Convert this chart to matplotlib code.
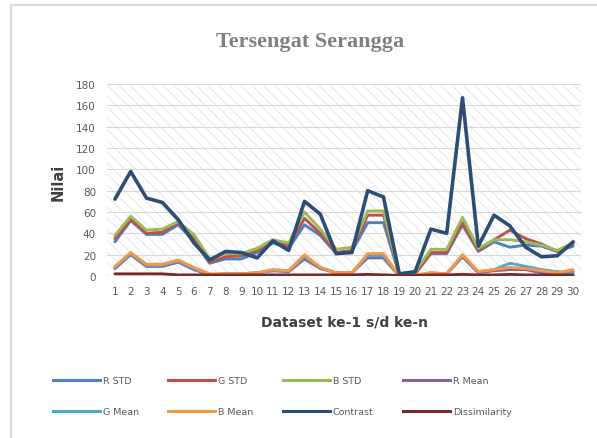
import numpy as np
import matplotlib
matplotlib.use('Agg')
import matplotlib.pyplot as plt
from matplotlib.patches import Rectangle

# data
dataset = list(range(1, 31))
r_std = [32, 52, 39, 39, 48, 33, 12, 16, 16, 22, 31, 26, 48, 38, 21,
         23, 50, 50, 1, 2, 21, 21, 48, 23, 32, 27, 29, 28, 23, 28]
g_std = [35, 53, 40, 41, 50, 35, 13, 18, 19, 24, 33, 28, 54, 40, 22,
         24, 57, 57, 1, 2, 22, 22, 50, 24, 34, 43, 35, 30, 23, 30]
b_std = [38, 56, 43, 44, 51, 39, 16, 21, 21, 26, 34, 31, 60, 44, 25,
         27, 61, 61, 2, 4, 25, 25, 55, 26, 34, 34, 32, 29, 24, 31]
r_mean = [7, 20, 9, 9, 13, 6, 1, 2, 2, 3, 5, 4, 16, 7, 3,
          3, 17, 17, 0, 0, 2, 2, 18, 3, 5, 6, 6, 3, 2, 4]
g_mean = [8, 21, 10, 10, 14, 7, 1, 2, 2, 3, 5, 5, 18, 8, 3,
          3, 19, 19, 0, 0, 3, 2, 19, 4, 6, 12, 9, 6, 4, 3]
b_mean = [9, 22, 11, 11, 15, 8, 2, 2, 2, 3, 6, 5, 20, 8, 3,
          3, 21, 21, 0, 1, 3, 2, 20, 4, 6, 8, 7, 5, 3, 6]
contrast = [72, 98, 73, 69, 53, 31, 15, 23, 22, 17, 33, 24, 70, 58, 21,
            22, 80, 74, 2, 4, 44, 40, 167, 28, 57, 47, 27, 18, 19, 32]
dissimilarity = [2, 2, 2, 2, 1, 1, 1, 1, 1, 1, 1, 1, 1, 1, 1,
                 1, 1.5, 1, 0.5, 0.5, 1, 1, 1.5, 1, 1, 1.5, 1, 1, 1, 1]

series = [('R STD', r_std, '#4F81BD'), ('G STD', g_std, '#C0504D'),
          ('B STD', b_std, '#9BBB59'), ('R Mean', r_mean, '#8064A2'),
          ('G Mean', g_mean, '#4BACC6'), ('B Mean', b_mean, '#F79646'),
          ('Contrast', contrast, '#2C4D75'),
          ('Dissimilarity', dissimilarity, '#772C2A')]

plt.rcParams['hatch.linewidth'] = 0.6

fig = plt.figure(figsize=(5.97, 4.39), dpi=100)
ax = fig.add_axes([107/597, 1-277/439, (581-107)/597, (277-85)/439])

# hatched plot area like the excel pattern fill
ax.add_patch(Rectangle((0, 0), 1, 1, transform=ax.transAxes, facecolor='none',
                       edgecolor='#e4e4e4', lw=0, hatch='\\\\\\', zorder=0))
ax.grid(axis='y', color='#d9d9d9', lw=0.8)
ax.set_axisbelow(True)

handles = {}
for name, vals, col in series:
    lw = 2.6 if name == 'Contrast' else 2.1
    ln, = ax.plot(dataset, vals, color=col, lw=lw, label=name,
                  solid_capstyle='round', solid_joinstyle='round')
    handles[name] = ln

ax.set_xlim(0.5, 30.5)
ax.set_ylim(0, 180)
ax.set_yticks(range(0, 181, 20))
ax.set_xticks(dataset)
ax.tick_params(length=0, labelsize=7.5, labelcolor='#595959')
ax.tick_params(axis='x', pad=7)
ax.tick_params(axis='y', pad=8)
for s in ax.spines.values():
    s.set_visible(False)

fig.text(310/597, 1-42/439, 'Tersengat Serangga', ha='center', va='center',
         fontsize=16, fontweight='bold', color='#7F7F7F', family='Liberation Serif')
fig.text(58/597, 1-182/439, 'Nilai', rotation=90, ha='center', va='center',
         fontsize=10.5, fontweight='bold', color='#404040')
fig.text(345/597, 1-323/439, 'Dataset ke-1 s/d ke-n', ha='center', va='center',
         fontsize=10, fontweight='bold', color='#404040')

order = ['R STD', 'G Mean', 'G STD', 'B Mean', 'B STD', 'Contrast',
         'R Mean', 'Dissimilarity']
leg_lines = [plt.Line2D([], [], color=handles[n].get_color(), lw=2.2) for n in order]
fig.legend(leg_lines, order, ncol=4, frameon=False,
           loc='upper left', bbox_to_anchor=(44/597, 1-369/439),
           fontsize=6.8, labelcolor='#595959', handlelength=5.0,
           handletextpad=0.3, columnspacing=3.1, labelspacing=2.3)

# light gray frame around the chart (cut off at right and bottom)
fig.add_artist(Rectangle((11/597, -0.1), 1.2, 1.1 - 6/439, transform=fig.transFigure,
                         facecolor='none', edgecolor='#d9d9d9', lw=1.6, clip_on=False))

fig.savefig('out.png', dpi=100)
